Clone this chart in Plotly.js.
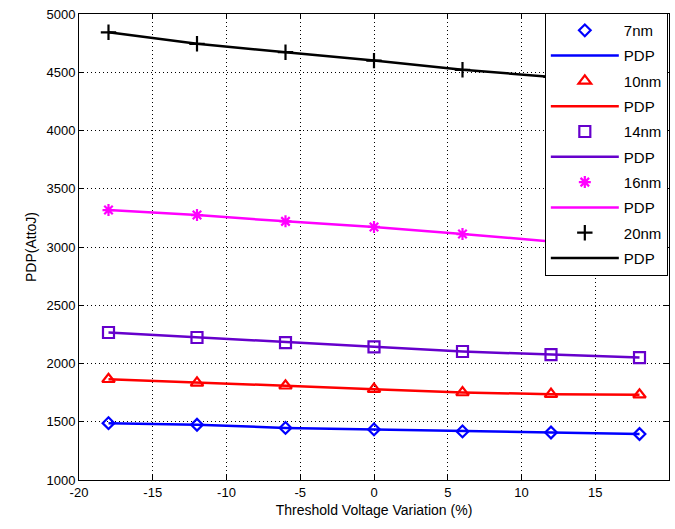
<!DOCTYPE html>
<html><head><meta charset="utf-8">
<script src="https://cdn.plot.ly/plotly-3.0.1.min.js"></script>
<style>html,body{margin:0;padding:0;background:#fff}#chart{width:675px;height:529px}</style>
</head><body><div id="chart"></div>
<script>
const xVals = [-18, -12, -6, 0, 6, 12, 18];
const pdp7nm  = [1488, 1474, 1447, 1434, 1417, 1408, 1395];
const pdp10nm = [1865, 1834, 1809, 1780, 1751, 1737, 1732];
const pdp14nm = [2266, 2223, 2180, 2143, 2103, 2077, 2051];
const pdp16nm = [3317, 3274, 3220, 3172, 3111, 3048, 2995];
const pdp20nm = [4843, 4744, 4672, 4600, 4521, 4460, 4400];
const seriesNames = ['7nm', '10nm', '14nm', '16nm', '20nm'];
const lineName = 'PDP';
const xTicks = [-20, -15, -10, -5, 0, 5, 10, 15, 20];
const yTicks = [1000, 1500, 2000, 2500, 3000, 3500, 4000, 4500, 5000];

const seriesData = [pdp7nm, pdp10nm, pdp14nm, pdp16nm, pdp20nm];
const colors = ['#0000ff', '#ff0000', '#6600cc', '#ff00ff', '#000000'];
const symbols = ['diamond-open', 'triangle-up-open', 'square-open', 'asterisk-open', 'cross-thin-open'];
const sizes = [9, 11, 11, 10, 11];

const traces = [];
seriesData.forEach((ys, i) => {
  traces.push({
    x: xVals, y: ys, type: 'scatter', mode: 'lines', name: lineName,
    line: {color: colors[i], width: 2.5}, showlegend: false
  });
});
seriesData.forEach((ys, i) => {
  traces.push({
    x: xVals, y: ys, type: 'scatter', mode: 'markers', name: seriesNames[i],
    legendgroup: 'g' + (2*i),
    marker: {color: colors[i], symbol: symbols[i], size: sizes[i], line: {color: colors[i], width: 2.2}}
  });
  traces.push({
    x: [null], y: [null], type: 'scatter', mode: 'lines', name: lineName,
    legendgroup: 'g' + (2*i+1),
    line: {color: colors[i], width: 2.5}
  });
});

const font = {family: 'Liberation Sans, Arial, sans-serif', size: 13, color: '#000'};
const layout = {
  width: 675, height: 529,
  margin: {l: 79, r: 6, t: 14, b: 49},
  paper_bgcolor: '#fff', plot_bgcolor: '#fff',
  font: font,
  showlegend: true,
  legend: {
    x: 0.998, xanchor: 'right', y: 1.002, yanchor: 'top',
    bgcolor: '#fff', bordercolor: '#000', borderwidth: 1,
    traceorder: 'grouped', tracegroupgap: 2.8, itemwidth: 68,
    maxheight: 1,
    font: {family: 'Liberation Sans, Arial, sans-serif', size: 15, color: '#000'}
  },
  xaxis: {
    range: [-20, 20], tickvals: xTicks, ticktext: xTicks.map(String),
    showgrid: true, gridcolor: '#000', griddash: '1px,3px', gridwidth: 1,
    zeroline: false, showline: true, linecolor: '#000', linewidth: 1, mirror: 'ticks',
    ticks: 'inside', ticklen: 5, tickcolor: '#000',
    title: {text: 'Threshold Voltage Variation (%)', font: {size: 14}, standoff: 6},
    tickfont: {size: 13}
  },
  yaxis: {
    range: [1000, 5000], tickvals: yTicks, ticktext: yTicks.map(String),
    showgrid: true, gridcolor: '#000', griddash: '1px,3px', gridwidth: 1,
    zeroline: false, showline: true, linecolor: '#000', linewidth: 1, mirror: 'ticks',
    ticks: 'inside', ticklen: 5, tickcolor: '#000',
    title: {text: 'PDP(AttoJ)', font: {size: 14}, standoff: 6},
    tickfont: {size: 13}
  }
};
Plotly.newPlot('chart', traces, layout, {displayModeBar: false, staticPlot: true});
</script></body></html>
